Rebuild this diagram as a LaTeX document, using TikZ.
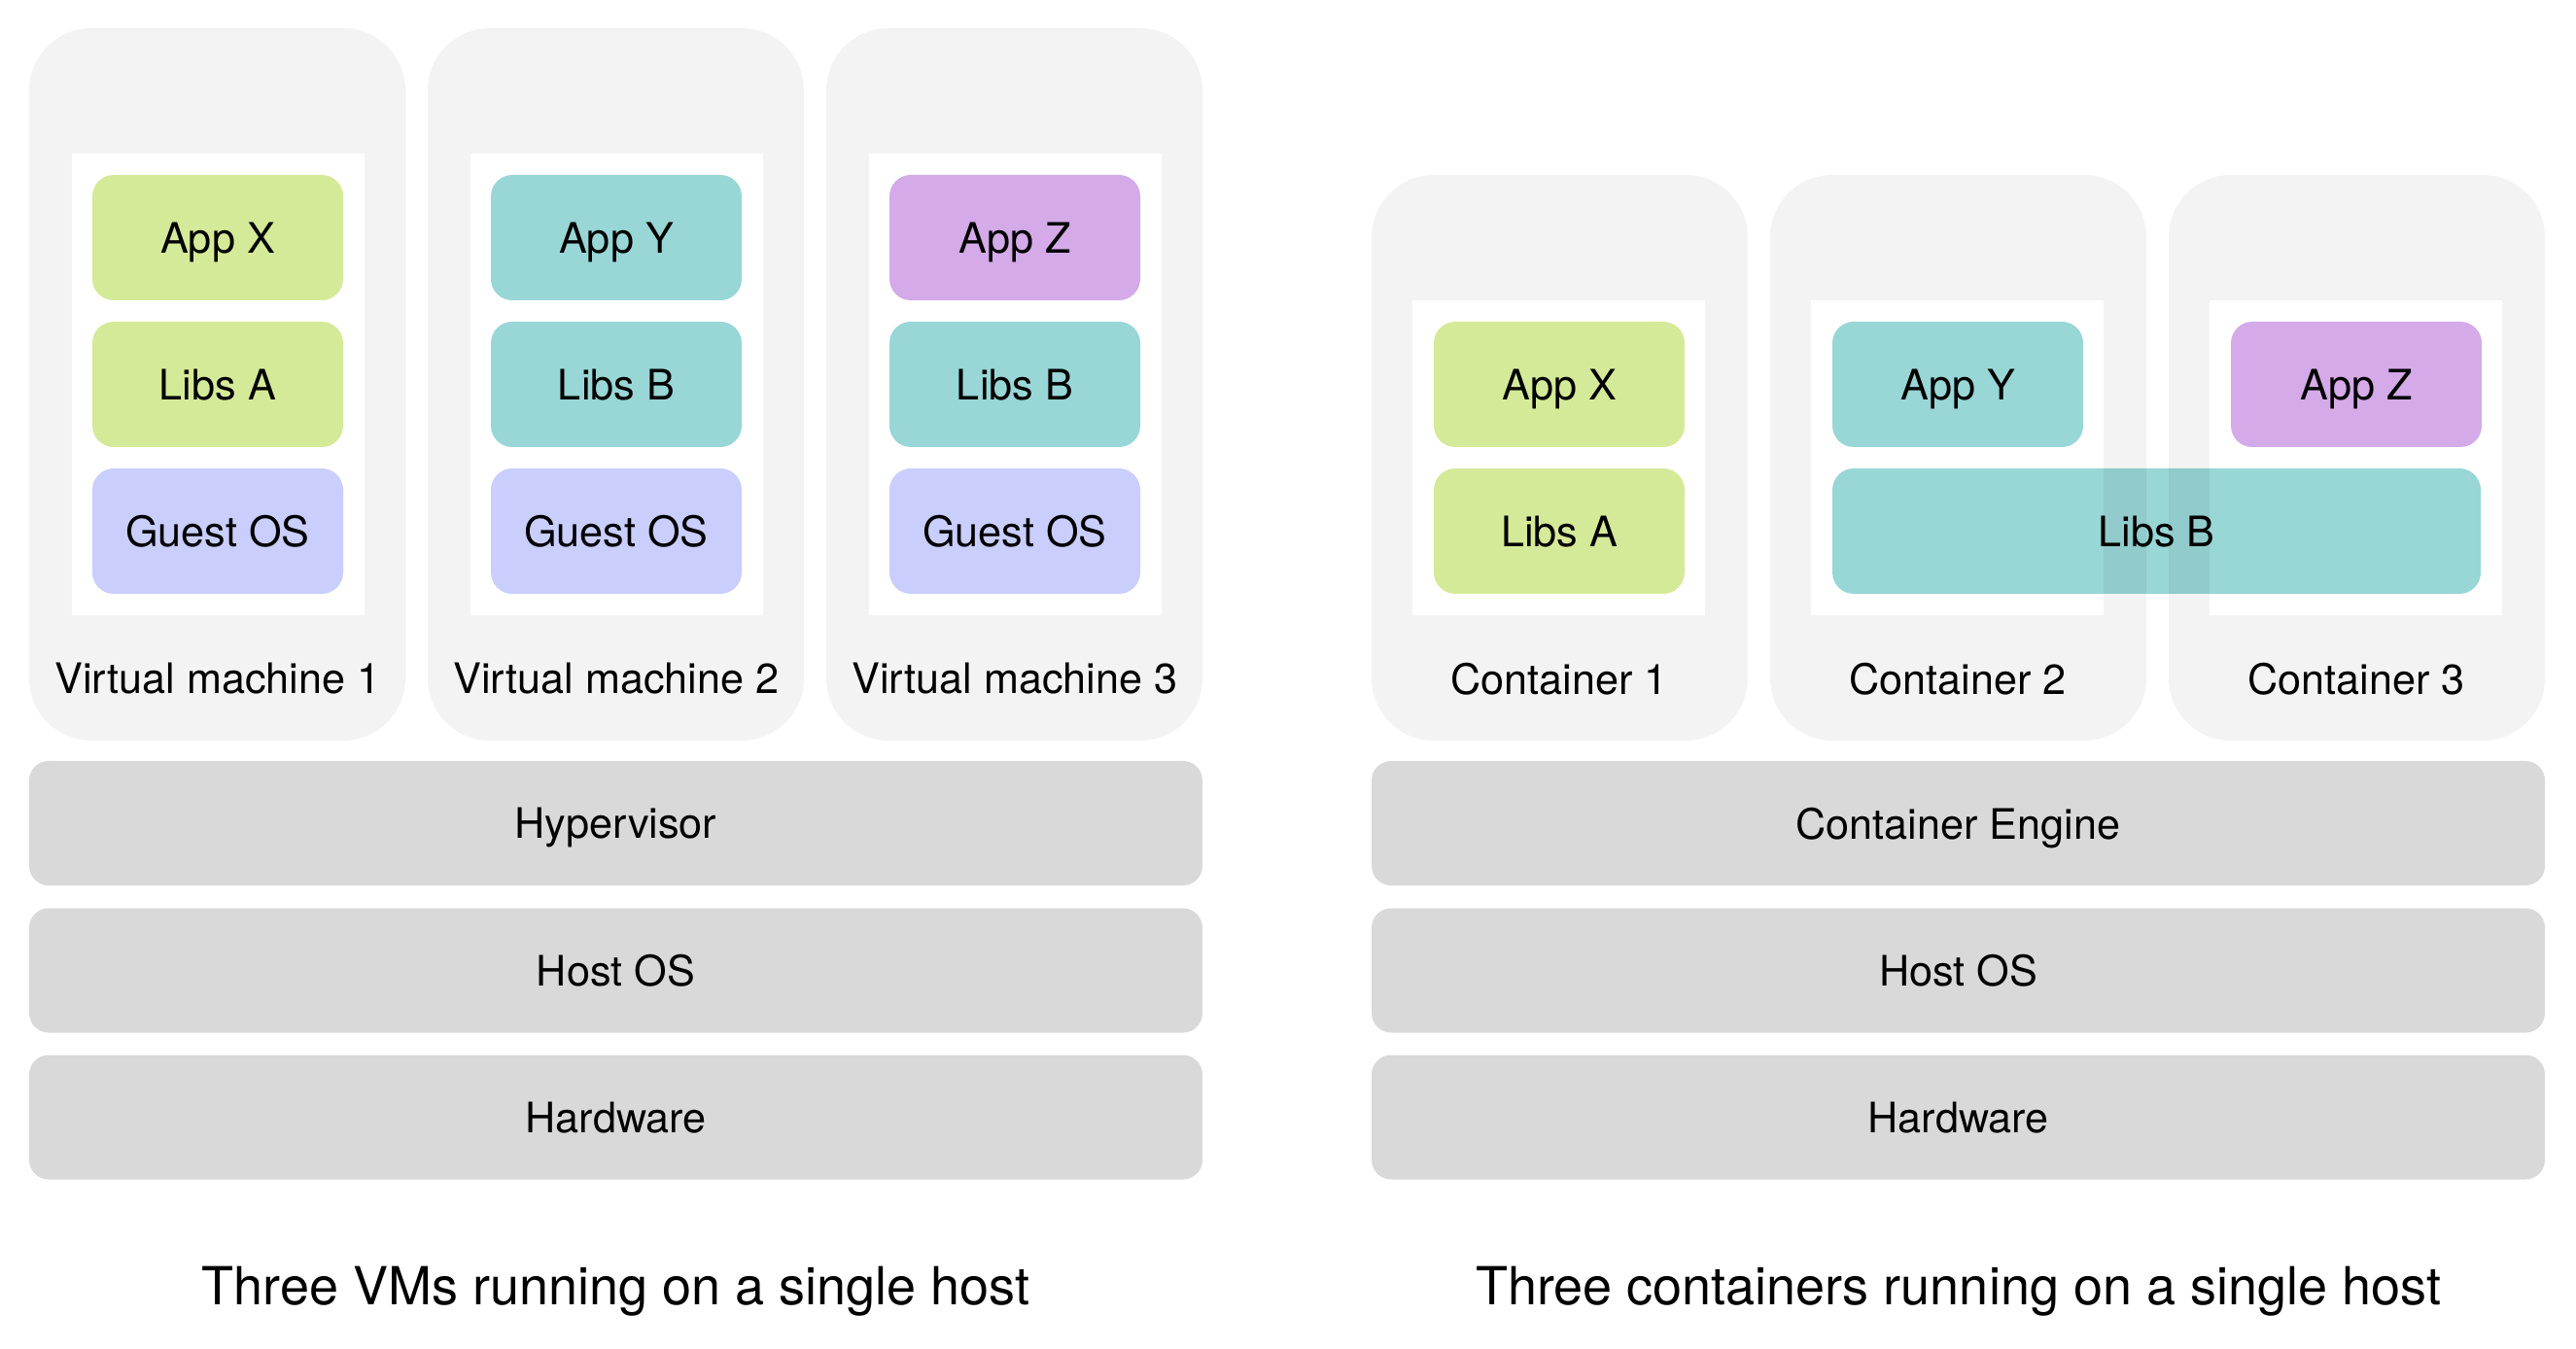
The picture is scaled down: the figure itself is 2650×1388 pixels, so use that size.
\documentclass[tikz,border=0pt]{standalone}
\usepackage{fontspec}
\setmainfont{TeX Gyre Heros}
\definecolor{shellgray}{HTML}{F3F3F3}
\definecolor{layergray}{HTML}{D9D9D9}
\definecolor{appgreen}{HTML}{D5EA98}
\definecolor{appteal}{HTML}{99D6D6}
\definecolor{oslavender}{HTML}{C9CEFC}
\definecolor{apppurple}{HTML}{D4AAE8}

\begin{document}
\begin{tikzpicture}[x=0.25pt,y=0.25pt,yscale=-1,xscale=1,
  box/.style={rounded corners=5.5pt, inner sep=0pt, minimum width=64.5pt, minimum height=32.25pt, text depth=0pt, font=\fontsize{10.8}{12}\selectfont},
  layer/.style={fill=layergray, rounded corners=5pt, inner sep=0pt, minimum width=301.75pt, minimum height=32pt, text depth=0pt, font=\fontsize{10.8}{12}\selectfont},
  tag/.style={text depth=0pt, font=\fontsize{10.8}{12}\selectfont},
  caption/.style={text depth=0pt, font=\fontsize{13.5}{15}\selectfont}]
\useasboundingbox (0,0) rectangle (2650,1388); %keep the page at 2650 x 1388

%Shape: VM shells
\fill[shellgray, rounded corners=16pt] (30,29) rectangle (417,762);
\fill[shellgray, rounded corners=16pt] (440,29) rectangle (827,762);
\fill[shellgray, rounded corners=16pt] (850,29) rectangle (1237,762);
%Shape: VM inner white
\fill[white] (74,158) rectangle (375,633);
\fill[white] (484,158) rectangle (785,633);
\fill[white] (894,158) rectangle (1195,633);

%Shape: container shells
\fill[shellgray, rounded corners=16pt] (1411,180) rectangle (1798,762);
\fill[shellgray, rounded corners=16pt] (1821,180) rectangle (2208,762);
\fill[shellgray, rounded corners=16pt] (2231,180) rectangle (2618,762);
%Shape: container inner white
\fill[white] (1453,309) rectangle (1754,633);
\fill[white] (1863,309) rectangle (2164,633);
\fill[white] (2273,309) rectangle (2574,633);

% VM 1
\node[box, fill=appgreen] (vmappx) at (224,244.5) {App X};
\node[box, fill=appgreen] (vmlibsa) at (224,395.5) {Libs A};
\node[box, fill=oslavender] (vmguest1) at (224,546.5) {Guest OS};
% VM 2
\node[box, fill=appteal] (vmappy) at (634,244.5) {App Y};
\node[box, fill=appteal] (vmlibsb1) at (634,395.5) {Libs B};
\node[box, fill=oslavender] (vmguest2) at (634,546.5) {Guest OS};
% VM 3
\node[box, fill=apppurple] (vmappz) at (1044,244.5) {App Z};
\node[box, fill=appteal] (vmlibsb2) at (1044,395.5) {Libs B};
\node[box, fill=oslavender] (vmguest3) at (1044,546.5) {Guest OS};

% Containers
\node[box, fill=appgreen] (ctappx) at (1604,395.5) {App X};
\node[box, fill=appgreen] (ctlibsa) at (1604,546.5) {Libs A};
\node[box, fill=appteal] (ctappy) at (2014,395.5) {App Y};
\node[box, fill=apppurple] (ctappz) at (2424,395.5) {App Z};
\begin{scope}[blend mode=multiply]
\node[box, fill=appteal, minimum width=166.75pt] (ctlibsb) at (2218.5,546.5) {Libs B}; % shared
\end{scope}

% Text Node
\node[tag] (vmtag1) at (224,698) {Virtual machine 1};
\node[tag] (vmtag2) at (634,698) {Virtual machine 2};
\node[tag] (vmtag3) at (1044,698) {Virtual machine 3};
\node[tag] (cttag1) at (1604,698) {Container 1};
\node[tag] (cttag2) at (2014,698) {Container 2};
\node[tag] (cttag3) at (2424,698) {Container 3};

% layers
\node[layer] (hyper) at (633.5,847) {Hypervisor};
\node[layer] (vmhost) at (633.5,998.5) {Host OS};
\node[layer] (vmhw) at (633.5,1149.5) {Hardware};
\node[layer] (engine) at (2014.5,847) {Container Engine};
\node[layer] (cthost) at (2014.5,998.5) {Host OS};
\node[layer] (cthw) at (2014.5,1149.5) {Hardware};

% Text Node
\node[caption] (vmcap) at (633.5,1323) {Three VMs running on a single host};
\node[caption] (ctcap) at (2014.5,1323) {Three containers running on a single host};

\end{tikzpicture}
\end{document}
